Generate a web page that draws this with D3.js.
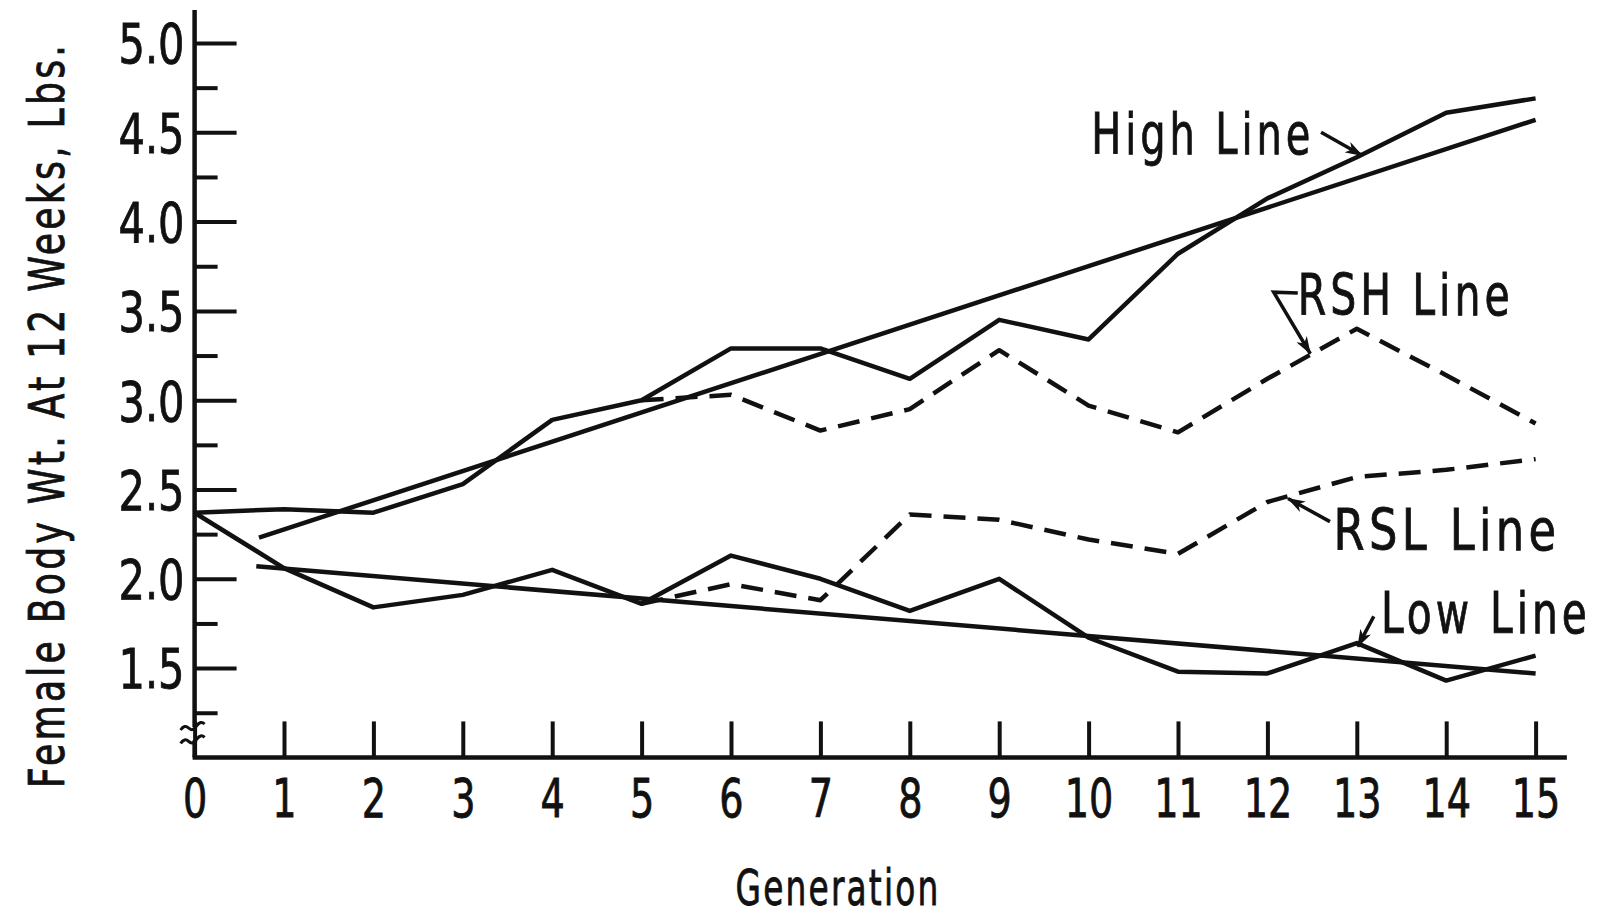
<!DOCTYPE html>
<html>
<head>
<meta charset="utf-8">
<script src="https://cdn.jsdelivr.net/npm/d3@7"></script>
<style>
  body { margin: 0; background: #fff; }
  svg { display: block; background: #fff; }
  text { font-family: "Liberation Sans Narrow", "DejaVu Sans Condensed", "Roboto Condensed", sans-serif; fill: #111; stroke: #111; stroke-width: 0.8px; }
</style>
</head>
<body>
<svg id="chart"></svg>
<script>
// generations on the x axis
const generations = [0, 1, 2, 3, 4, 5, 6, 7, 8, 9, 10, 11, 12, 13, 14, 15];

// selected lines, generation 0..15
const highLine = [2.37, 2.39, 2.37, 2.53, 2.89, 3.00, 3.29, 3.29, 3.12, 3.45, 3.34, 3.82, 4.13, 4.36, 4.61, 4.69];
const lowLine  = [2.37, 2.06, 1.84, 1.91, 2.05, 1.86, 2.13, 2.00, 1.82, 2.00, 1.67, 1.48, 1.47, 1.64, 1.43, 1.57];

// relaxed lines, generation 5..15
const relaxedGens = [5, 6, 7, 8, 9, 10, 11, 12, 13, 14, 15];
const rshLine = [3.00, 3.03, 2.83, 2.95, 3.28, 2.97, 2.82, 3.12, 3.40, 3.14, 2.87];
const rslLine = [1.86, 1.97, 1.88, 2.36, 2.33, 2.22, 2.14, 2.43, 2.57, 2.61, 2.67];

// fitted regression lines [generation, weight]
const highTrend = [[0.72, 2.23], [15, 4.57]];
const lowTrend  = [[0.69, 2.07], [15, 1.47]];

// y ticks
const majorTicks = [5.0, 4.5, 4.0, 3.5, 3.0, 2.5, 2.0, 1.5];
const minorTicks = [4.75, 4.25, 3.75, 3.25, 2.75, 2.25, 1.75, 1.25];

// annotations: label position and arrow path, in data units
const annotations = [
  { text: "High Line", at: [10.03, 4.38], len: 223, arrow: [[12.60, 4.50], [13.06, 4.37]] },
  { text: "RSH Line",  at: [12.34, 3.475], len: 216, arrow: [[12.34, 3.60], [12.07, 3.605], [12.48, 3.26]] },
  { text: "RSL Line",  at: [12.74, 2.16], len: 227, arrow: [[12.70, 2.32], [12.23, 2.45]] },
  { text: "Low Line",  at: [13.27, 1.695], len: 210, arrow: [[13.19, 1.79], [13.01, 1.62]] }
];

const width = 1606, height = 917;
const svg = d3.select('#chart').attr('width', width).attr('height', height);

const x = d3.scaleLinear().domain([0, 15]).range([194.6, 1535.6]);
const y = d3.scaleLinear().domain([1.5, 5.0]).range([668.1, 43]);
const yBottom = 1.0, yTop = 5.185;
const xRight = 15.35;

// squeeze a text horizontally so it spans the wanted width
function fitWidth(sel, base, len) {
  const w = sel.node().getComputedTextLength();
  sel.attr('transform', `${base} scale(${len / w},1)`);
}

svg.append('defs').append('marker')
  .attr('id', 'head')
  .attr('viewBox', '0 0 18 12')
  .attr('refX', 17).attr('refY', 6)
  .attr('markerWidth', 18).attr('markerHeight', 12)
  .attr('markerUnits', 'userSpaceOnUse')
  .attr('orient', 'auto')
  .append('path').attr('d', 'M0,0 L18,6 L0,12 L5,6 Z').attr('fill', '#111');

// y axis (ticks inside, labels left)
const yAxis = d3.axisLeft(y).tickValues(majorTicks).tickFormat(d3.format('.1f'))
  .tickSizeInner(-42).tickSizeOuter(0).tickPadding(12);
const gy = svg.append('g').attr('transform', `translate(${x(0)},0)`).call(yAxis);
gy.select('.domain').remove();
gy.selectAll('.tick line').attr('stroke', '#111').attr('stroke-width', 4);
gy.selectAll('.tick text')
  .attr('font-size', 55).attr('fill', '#111').attr('dy', '0.36em')
  .attr('transform', 'scale(0.84,1)');

const yMinor = d3.axisLeft(y).tickValues(minorTicks).tickFormat('').tickSizeInner(-23).tickSizeOuter(0);
const gym = svg.append('g').attr('transform', `translate(${x(0)},0)`).call(yMinor);
gym.select('.domain').remove();
gym.selectAll('.tick line').attr('stroke', '#111').attr('stroke-width', 4);

// x axis (ticks pointing up)
const xAxis = d3.axisBottom(x).tickValues(generations).tickFormat(d3.format('d'))
  .tickSizeInner(-36).tickSizeOuter(0).tickPadding(22);
const gx = svg.append('g').attr('transform', `translate(0,${y(yBottom)})`).call(xAxis);
gx.select('.domain').remove();
gx.selectAll('.tick line').attr('stroke', '#111').attr('stroke-width', 4);
gx.selectAll('.tick text')
  .attr('font-size', 53).attr('fill', '#111')
  .attr('transform', 'scale(0.8,1)');

// axis lines, with a small gap for the break
const yBreak = [1.17, 1.095];
svg.append('line')
  .attr('x1', x(0)).attr('x2', x(0)).attr('y1', y(yTop)).attr('y2', y(yBreak[0]))
  .attr('stroke', '#111').attr('stroke-width', 4.5);
svg.append('line')
  .attr('x1', x(0)).attr('x2', x(0)).attr('y1', y(yBreak[1])).attr('y2', y(yBottom))
  .attr('stroke', '#111').attr('stroke-width', 4.5);
svg.append('line')
  .attr('x1', x(0) - 2).attr('x2', x(xRight)).attr('y1', y(yBottom)).attr('y2', y(yBottom))
  .attr('stroke', '#111').attr('stroke-width', 4.5);

// axis break marks
yBreak.forEach(v => {
  const cx = x(0), cy = y(v);
  svg.append('path')
    .attr('d', `M${cx - 14},${cy + 3} q4,-6 8,-2 t8,-2 t8,-2`)
    .attr('fill', 'none').attr('stroke', '#111').attr('stroke-width', 3);
});

// series
const line = d3.line().x(d => x(d[0])).y(d => y(d[1]));
const series = [
  { pts: generations.map((g, i) => [g, highLine[i]]), dash: null },
  { pts: generations.map((g, i) => [g, lowLine[i]]), dash: null },
  { pts: highTrend, dash: null },
  { pts: lowTrend, dash: null },
  { pts: relaxedGens.map((g, i) => [g, rshLine[i]]), dash: '22,12' },
  { pts: relaxedGens.map((g, i) => [g, rslLine[i]]), dash: '22,12' }
];
series.forEach(s => {
  svg.append('path')
    .datum(s.pts)
    .attr('fill', 'none')
    .attr('stroke', '#111')
    .attr('stroke-width', 4.5)
    .attr('stroke-linejoin', 'round')
    .attr('stroke-dasharray', s.dash)
    .attr('d', line);
});

// annotations
annotations.forEach(a => {
  const t = svg.append('text')
    .attr('font-size', 57)
    .attr('letter-spacing', 5)
    .text(a.text);
  fitWidth(t, `translate(${x(a.at[0])},${y(a.at[1])})`, a.len);
  svg.append('path')
    .datum(a.arrow)
    .attr('fill', 'none').attr('stroke', '#111').attr('stroke-width', 3.5)
    .attr('marker-end', 'url(#head)')
    .attr('d', line);
});

// axis titles
const yTitle = svg.append('text')
  .attr('text-anchor', 'middle')
  .attr('font-size', 50)
  .attr('letter-spacing', 4)
  .text('Female Body Wt. At 12 Weeks, Lbs.');
fitWidth(yTitle, 'translate(64,415) rotate(-90)', 746);

const xTitle = svg.append('text')
  .attr('text-anchor', 'middle')
  .attr('font-size', 50)
  .attr('letter-spacing', 3)
  .text('Generation');
fitWidth(xTitle, 'translate(838,905)', 205);
</script>
</body>
</html>
